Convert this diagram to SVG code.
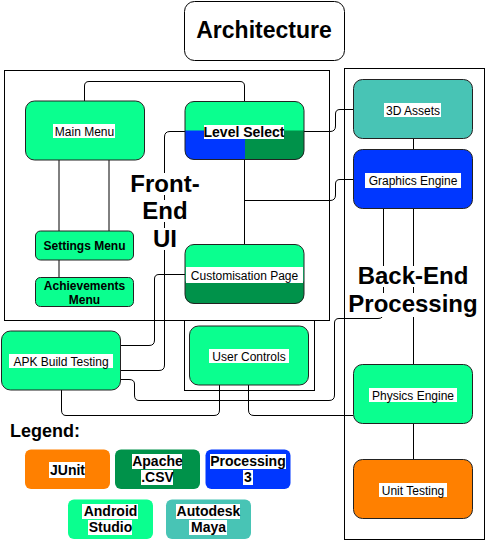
<svg xmlns="http://www.w3.org/2000/svg" width="485" height="551" viewBox="0 0 485 551">
<style>
text{font-family:"Liberation Sans",Arial,sans-serif;fill:#000;text-anchor:middle}
.n{stroke:#222;stroke-width:1}
.lg{fill:#0AFF8F}
.dg{fill:#00924A}
.bl{fill:#0037FF}
.tl{fill:#48C4B5}
.or{fill:#FF8000}
.c{fill:none;stroke:#000;stroke-width:1}
.box{fill:none;stroke:#000;stroke-width:1}
.bg{fill:#fff}
.t12{font-size:12px}
.b12{font-size:12px;font-weight:bold}
.b14{font-size:14px;font-weight:bold}
.big{font-size:24px;font-weight:bold}
</style>
<rect width="485" height="551" fill="#fff"/>

<g id="title">
<rect x="184.5" y="1.5" width="160" height="59" rx="10" fill="#fff" stroke="#000"/>
<text x="264" y="38" style="font-size:23px;font-weight:bold">Architecture</text>
</g>

<g id="containers">
<rect class="box" x="4.5" y="70.5" width="325" height="250"/>
<rect class="box" x="344.5" y="68.5" width="140" height="471"/>
<rect class="box" x="184.5" y="320.5" width="130" height="70"/>
</g>

<g id="connectors">
<path class="c" d="M84.5,101 V86 Q84.5,81.5 89,81.5 H240 Q244.5,81.5 244.5,86 V101"/>
<path d="M59,160 V231 M109,160 V231 M59,260 V277" fill="none" stroke="#000" stroke-width="1"/>
<path class="c" d="M304,131.5 H330 Q335.5,131.5 335.5,126 V114 Q335.5,109.5 340,109.5 H353"/>
<path class="c" d="M244.5,160 V244"/>
<path class="c" d="M244.5,200.5 H330 Q335.5,200.5 335.5,195 V184 Q335.5,179.5 340,179.5 H353"/>
<path class="c" d="M413.5,139 V149"/>
<path class="c" d="M413.5,209 V364"/>
<path class="c" d="M121,379.5 H129 Q134.5,379.5 134.5,384 V395 Q134.5,400.5 139,400.5 H329 Q334.5,400.5 334.5,395 V323 Q334.5,318.5 339,318.5 H378 Q383.5,318.5 383.5,313 V209"/>
<path class="c" d="M185,131.5 H170 Q164.5,131.5 164.5,137 V365 Q164.5,370.5 159,370.5 H121"/>
<path class="c" d="M185,274.5 H159 Q154.5,274.5 154.5,279 V340 Q154.5,345.5 149,345.5 H121"/>
<path class="c" d="M61.5,390 V410 Q61.5,415.5 66,415.5 H214 Q219.5,415.5 219.5,410 V385"/>
<path class="c" d="M248.5,385 V410 Q248.5,415.5 254,415.5 H353"/>
<path class="c" d="M413.5,424 V459"/>
</g>

<g id="section-labels">
<rect class="bg" x="130" y="173" width="70" height="22"/>
<rect class="bg" x="143" y="200" width="44" height="22"/>
<rect class="bg" x="150" y="228" width="30" height="22"/>
<text class="big" x="165" y="192">Front-</text>
<text class="big" x="165" y="219">End</text>
<text class="big" x="165" y="247">UI</text>
<rect class="bg" x="356" y="266" width="114" height="21"/>
<rect class="bg" x="348" y="293" width="131" height="24"/>
<text class="big" x="413" y="284">Back-End</text>
<text class="big" x="413" y="312">Processing</text>
</g>

<g id="main-menu">
<rect class="n lg" x="25.5" y="101" width="119" height="59" rx="9"/>
<rect class="bg" x="53" y="124" width="62" height="14"/>
<text class="t12" x="84.5" y="135.5">Main Menu</text>
</g>

<g id="level-select">
<rect class="lg" x="185" y="101.5" width="119" height="58" rx="9"/>
<path class="bl" d="M185,130.5 H245 V159.5 H194 Q185,159.5 185,150.5 Z"/>
<path class="dg" d="M245,130.5 H304 V150.5 Q304,159.5 295,159.5 H245 Z"/>
<rect x="185" y="101.5" width="119" height="58" rx="9" fill="none" stroke="#222"/>
<rect class="bg" x="204" y="125" width="80" height="14"/>
<text class="b14" x="244" y="137">Level Select</text>
</g>

<g id="settings-menu">
<rect class="n lg" x="35.5" y="231" width="98" height="29" rx="5"/>
<text class="b12" x="84.5" y="250">Settings Menu</text>
</g>

<g id="achievements-menu">
<rect class="n lg" x="35.5" y="277.5" width="98" height="29" rx="5"/>
<text class="b12" x="84.5" y="290">Achievements</text>
<text class="b12" x="84.5" y="304">Menu</text>
</g>

<g id="customisation-page">
<rect class="lg" x="185" y="244.5" width="119" height="59" rx="9"/>
<path class="dg" d="M185,281.5 H304 V294.5 Q304,303.5 295,303.5 H194 Q185,303.5 185,294.5 Z"/>
<rect x="185" y="244.5" width="119" height="59" rx="9" fill="none" stroke="#222"/>
<rect class="bg" x="186" y="267" width="117" height="16"/>
<text class="t12" x="244.5" y="279.5">Customisation Page</text>
</g>

<g id="assets-3d">
<rect class="n tl" x="353.5" y="79.5" width="119" height="59" rx="9"/>
<rect class="bg" x="384" y="103" width="57" height="14"/>
<text class="t12" x="413" y="114.5">3D Assets</text>
</g>

<g id="graphics-engine">
<rect class="n bl" x="353.5" y="149.5" width="119" height="59" rx="9"/>
<rect class="bg" x="365" y="173" width="96" height="15"/>
<text class="t12" x="413" y="184.5">Graphics Engine</text>
</g>

<g id="physics-engine">
<rect class="n lg" x="353.5" y="364.5" width="119" height="59" rx="9"/>
<rect class="bg" x="369" y="388" width="88" height="14"/>
<text class="t12" x="413" y="399.5">Physics Engine</text>
</g>

<g id="unit-testing">
<rect class="n or" x="353.5" y="459.5" width="119" height="59" rx="9"/>
<rect class="bg" x="379" y="483" width="68" height="14"/>
<text class="t12" x="413" y="494.5">Unit Testing</text>
</g>

<g id="apk-build-testing">
<rect class="n lg" x="1.5" y="331" width="119" height="59" rx="9"/>
<rect class="bg" x="9" y="354" width="104" height="14"/>
<text class="t12" x="61" y="365.5">APK Build Testing</text>
</g>

<g id="user-controls">
<rect class="n lg" x="189.5" y="326" width="119" height="59" rx="9"/>
<rect class="bg" x="209" y="349" width="80" height="14"/>
<text class="t12" x="249" y="360.5">User Controls</text>
</g>

<g id="legend">
<text x="10" y="437" style="font-size:18px;font-weight:bold;text-anchor:start">Legend:</text>
<g id="legend-junit">
<rect class="or" x="25" y="449.5" width="85" height="39.5" rx="6"/>
<rect class="bg" x="49" y="462" width="36" height="16"/>
<text class="b14" x="67.5" y="475">JUnit</text>
</g>
<g id="legend-apache">
<rect class="dg" x="115" y="449.5" width="85" height="39.5" rx="6"/>
<rect class="bg" x="132" y="454" width="50" height="15"/>
<rect class="bg" x="141" y="470" width="32" height="15"/>
<text class="b14" x="157.5" y="466">Apache</text>
<text class="b14" x="157.5" y="482">.CSV</text>
</g>
<g id="legend-processing">
<rect class="bl" x="205.5" y="449.5" width="85" height="39.5" rx="6"/>
<rect class="bg" x="210" y="454" width="76" height="15"/>
<rect class="bg" x="243" y="470" width="10" height="15"/>
<text class="b14" x="248" y="466">Processing</text>
<text class="b14" x="248" y="482">3</text>
</g>
<g id="legend-android">
<rect class="lg" x="68" y="499.5" width="85" height="39.5" rx="6"/>
<rect class="bg" x="82" y="504" width="56" height="15"/>
<rect class="bg" x="88" y="520" width="44" height="15"/>
<text class="b14" x="110.5" y="516">Android</text>
<text class="b14" x="110.5" y="532">Studio</text>
</g>
<g id="legend-maya">
<rect class="tl" x="166" y="499.5" width="85" height="39.5" rx="6"/>
<rect class="bg" x="176" y="504" width="64" height="15"/>
<rect class="bg" x="189" y="520" width="38" height="15"/>
<text class="b14" x="208.5" y="516">Autodesk</text>
<text class="b14" x="208.5" y="532">Maya</text>
</g>
</g>
</svg>
